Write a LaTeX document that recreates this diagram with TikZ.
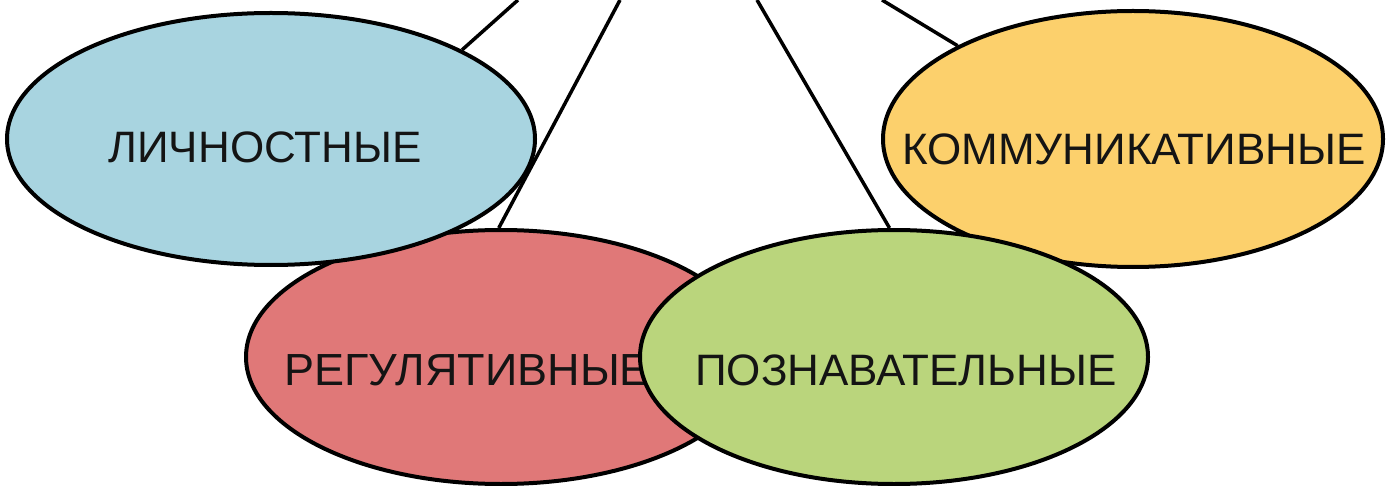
\documentclass[tikz,border=0pt]{standalone}
\usepackage{fontspec}
\setmainfont{Liberation Sans}
\usetikzlibrary{shapes.geometric}
\definecolor{cblue}{RGB}{168,212,224}
\definecolor{cred}{RGB}{224,120,120}
\definecolor{cgreen}{RGB}{186,213,124}
\definecolor{corange}{RGB}{252,208,108}
\definecolor{ctext}{RGB}{20,20,20}
\begin{document}
\begin{tikzpicture}[x=1pt,y=-1pt,
  oval/.style={ellipse, draw=black, line width=4pt, inner sep=0pt},
  lbl/.style={anchor=base, inner sep=0pt, text=ctext, font=\fontsize{44}{50}\selectfont},
  conn/.style={draw=black, line width=3.5pt}]
\useasboundingbox (0,0) rectangle (1391,486);
\fill[white] (0,0) rectangle (1391,486);
% ellipses and labels, back to front
\node[oval, fill=cred, minimum width=510pt, minimum height=254pt] (reg) at (501,357) {};
\node[lbl, font=\fontsize{45}{50}\selectfont] (reg-t) at (467,385) {РЕГУЛЯТИВНЫЕ};
\node[oval, fill=cblue, minimum width=528pt, minimum height=252pt] (lich) at (271,139) {};
\node[lbl] (lich-t) at (265,163) {ЛИЧНОСТНЫЕ};
\node[oval, fill=corange, minimum width=500pt, minimum height=256pt] (komm) at (1133,139) {};
\node[lbl] (komm-t) at (1134,165) {КОММУНИКАТИВНЫЕ};
\node[oval, fill=cgreen, minimum width=508pt, minimum height=254pt] (pozn) at (894,357) {};
\node[lbl] (pozn-t) at (906,385) {ПОЗНАВАТЕЛЬНЫЕ};
% connectors to the parent above (out of frame)
\coordinate (t1) at (518,0);
\coordinate (t2) at (620,0);
\coordinate (t3) at (757,0);
\coordinate (t4) at (882,0);
\draw[conn] (t1) -- (lich.25.8);
\draw[conn] (t2) -- (reg.91);
\draw[conn] (t3) -- (pozn.92);
\draw[conn] (t4) -- (komm.152.6);
\end{tikzpicture}
\end{document}
